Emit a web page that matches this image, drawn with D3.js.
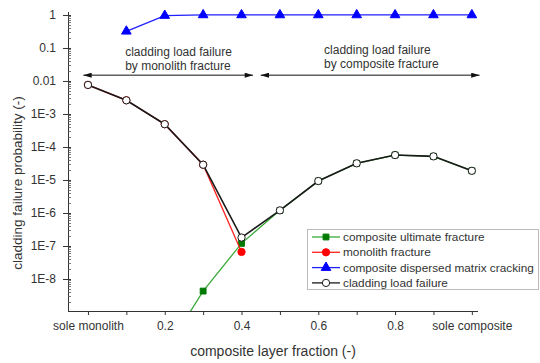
<!DOCTYPE html>
<html>
<head>
<meta charset="utf-8">
<script src="https://cdn.jsdelivr.net/npm/d3@7"></script>
<style>
  body { margin: 0; background: #fff; }
  svg { display: block; font-family: "Liberation Sans", Arial, sans-serif; }
</style>
</head>
<body>
<div id="chart"></div>
<script>
// Data
var fractions = [0, 0.1, 0.2, 0.3, 0.4, 0.5, 0.6, 0.7, 0.8, 0.9, 1.0];
var compositeUltimate = [null, null, 6e-11, 4.3e-9, 1.2e-7, 1.2e-6, 9.3e-6, 3.2e-5, 5.7e-5, 5.2e-5, 1.9e-5];
var monolithFracture = [7.6e-3, 2.6e-3, 4.9e-4, 2.9e-5, 6.6e-8, null, null, null, null, null, null];
var matrixCracking = [null, 0.32, 0.96, 1, 1, 1, 1, 1, 1, 1, 1];
var claddingLoad = [7.6e-3, 2.6e-3, 4.9e-4, 2.9e-5, 1.8e-7, 1.2e-6, 9.3e-6, 3.2e-5, 5.7e-5, 5.2e-5, 1.9e-5];

var xTickValues = [0, 0.1, 0.2, 0.3, 0.4, 0.5, 0.6, 0.7, 0.8, 0.9, 1.0];
var xTickLabels = ["sole monolith", "", "0.2", "", "0.4", "", "0.6", "", "0.8", "", "sole composite"];
var yTickValues = [1, 0.1, 0.01, 1e-3, 1e-4, 1e-5, 1e-6, 1e-7, 1e-8];
var yTickLabels = ["1", "0.1", "0.01", "1E-3", "1E-4", "1E-5", "1E-6", "1E-7", "1E-8"];

var seriesNames = ["composite ultimate fracture", "monolith fracture", "composite dispersed matrix cracking", "cladding load failure"];

var width = 540, height = 363;

var svg = d3.select("#chart").append("svg")
  .attr("width", width)
  .attr("height", height);

var x = d3.scaleLinear().domain([-0.052, 1.016]).range([68, 478]);
var y = d3.scaleLog().domain([Math.pow(10, -8.97), Math.pow(10, 0.09)]).range([311, 12]);

// clip so lines stop at the axes
svg.append("clipPath").attr("id", "plotclip")
  .append("rect")
    .attr("x", 68).attr("y", 0)
    .attr("width", 480).attr("height", 311);

// x axis
var xAxis = svg.append("g")
  .attr("transform", "translate(0,311)")
  .call(d3.axisBottom(x)
    .tickValues(xTickValues)
    .tickFormat(function(d, i) { return xTickLabels[i]; })
    .tickSize(4)
    .tickPadding(6)
    .tickSizeOuter(0));
xAxis.select(".domain").attr("d", "M68,0.5H478").attr("stroke", "#333");
xAxis.selectAll(".tick line").attr("stroke", "#333");
xAxis.selectAll(".tick text").attr("fill", "#333").style("font-size", "12px");

// y axis, major ticks
var yAxis = svg.append("g")
  .attr("transform", "translate(68,0)")
  .call(d3.axisLeft(y)
    .tickValues(yTickValues)
    .tickFormat(function(d, i) { return yTickLabels[i]; })
    .tickSize(5)
    .tickPadding(7)
    .tickSizeOuter(0));
yAxis.select(".domain").attr("d", "M0.5,12V311").attr("stroke", "#333");
yAxis.selectAll(".tick line").attr("stroke", "#333").attr("x2", 3).attr("x1", -5);
yAxis.selectAll(".tick text").attr("fill", "#333").style("font-size", "12px");

// y axis, minor ticks
var minorTicks = [];
for (var e = -9; e <= 0; e++) {
  for (var m = 2; m <= 9; m++) {
    var v = m * Math.pow(10, e);
    if (v >= y.domain()[0] && v <= y.domain()[1]) minorTicks.push(v);
  }
}
svg.append("g").selectAll("line")
  .data(minorTicks)
  .join("line")
    .attr("x1", 68).attr("x2", 71)
    .attr("y1", function(d) { return Math.round(y(d)) + 0.5; })
    .attr("y2", function(d) { return Math.round(y(d)) + 0.5; })
    .attr("stroke", "#555")
    .attr("stroke-width", 0.8);

// axis titles
svg.append("text")
  .attr("x", 273).attr("y", 356)
  .attr("text-anchor", "middle")
  .attr("fill", "#333")
  .style("font-size", "14px")
  .text("composite layer fraction (-)");

svg.append("text")
  .attr("transform", "translate(22,183) rotate(-90)")
  .attr("text-anchor", "middle")
  .attr("fill", "#333")
  .style("font-size", "13.5px")
  .text("cladding failure probability (-)");

// annotations with arrows
var defs = svg.append("defs");
defs.append("marker")
  .attr("id", "arrowhead")
  .attr("viewBox", "0 0 10 6")
  .attr("refX", 10).attr("refY", 3)
  .attr("markerWidth", 9).attr("markerHeight", 5)
  .attr("markerUnits", "userSpaceOnUse")
  .attr("orient", "auto-start-reverse")
  .append("path")
    .attr("d", "M0,0L10,3L0,6Z")
    .attr("fill", "#111");

var arrows = [[-0.012, 0.43], [0.45, 1.02]];
svg.append("g").selectAll("line")
  .data(arrows)
  .join("line")
    .attr("x1", function(d) { return x(d[0]); })
    .attr("x2", function(d) { return x(d[1]); })
    .attr("y1", y(0.015)).attr("y2", y(0.015))
    .attr("stroke", "#111")
    .attr("stroke-width", 1)
    .attr("marker-start", "url(#arrowhead)")
    .attr("marker-end", "url(#arrowhead)");

var notes = [
  { x: 0.097, lines: ["cladding load failure", "by monolith fracture"], y0: 56 },
  { x: 0.615, lines: ["cladding load failure", "by composite fracture"], y0: 54 }
];
notes.forEach(function(n) {
  n.lines.forEach(function(t, i) {
    svg.append("text")
      .attr("x", x(n.x)).attr("y", n.y0 + i * 14)
      .attr("fill", "#333")
      .style("font-size", "12px")
      .text(t);
  });
});

// series
var series = [
  { name: seriesNames[0], values: compositeUltimate, line: "#3aaa3a", fill: "#007a00", stroke: "#007a00", shape: "square" },
  { name: seriesNames[1], values: monolithFracture, line: "#ff2020", fill: "#ff0000", stroke: "#ff0000", shape: "circle" },
  { name: seriesNames[2], values: matrixCracking, line: "#2020ff", fill: "#0000ff", stroke: "#0000ff", shape: "triangle" },
  { name: seriesNames[3], values: claddingLoad, line: "#1a1a1a", fill: "#fff", stroke: "#1a1a1a", shape: "circle" }
];

var symbolTypes = { square: d3.symbolSquare, circle: d3.symbolCircle, triangle: d3.symbolTriangle };
var symbolSizes = { square: 34, circle: 42, triangle: 40 };

var line = d3.line()
  .defined(function(d) { return d.v != null; })
  .x(function(d) { return x(d.f); })
  .y(function(d) { return y(d.v); });

var plot = svg.append("g").attr("clip-path", "url(#plotclip)");

series.forEach(function(s, k) {
  var pts = fractions.map(function(f, i) { return { f: f, v: s.values[i] }; });
  plot.append("path")
    .datum(pts)
    .attr("d", line)
    .attr("fill", "none")
    .attr("stroke", s.line)
    .attr("stroke-width", k === 3 ? 1.6 : 1.3);
  plot.selectAll(null)
    .data(pts.filter(function(d) { return d.v != null; }))
    .join("path")
      .attr("transform", function(d) { return "translate(" + x(d.f) + "," + y(d.v) + ")"; })
      .attr("d", d3.symbol().type(symbolTypes[s.shape]).size(symbolSizes[s.shape]))
      .attr("fill", s.fill)
      .attr("stroke", s.stroke)
      .attr("stroke-width", 1);
});

// legend
var legend = svg.append("g").attr("transform", "translate(307,229)");
legend.append("rect")
  .attr("x", 0.5).attr("y", 0.5)
  .attr("width", 231).attr("height", 60)
  .attr("fill", "#fff")
  .attr("stroke", "#bbb");

series.forEach(function(s, i) {
  var g = legend.append("g").attr("transform", "translate(0," + (8 + i * 15.3) + ")");
  g.append("line")
    .attr("x1", 5).attr("x2", 33)
    .attr("stroke", s.line).attr("stroke-width", 1.3);
  g.append("path")
    .attr("transform", "translate(19,0)")
    .attr("d", d3.symbol().type(symbolTypes[s.shape]).size(symbolSizes[s.shape]))
    .attr("fill", s.fill)
    .attr("stroke", s.stroke);
  g.append("text")
    .attr("x", 36).attr("y", 4)
    .attr("fill", "#333")
    .style("font-size", "11.8px")
    .text(s.name);
});
</script>
</body>
</html>
